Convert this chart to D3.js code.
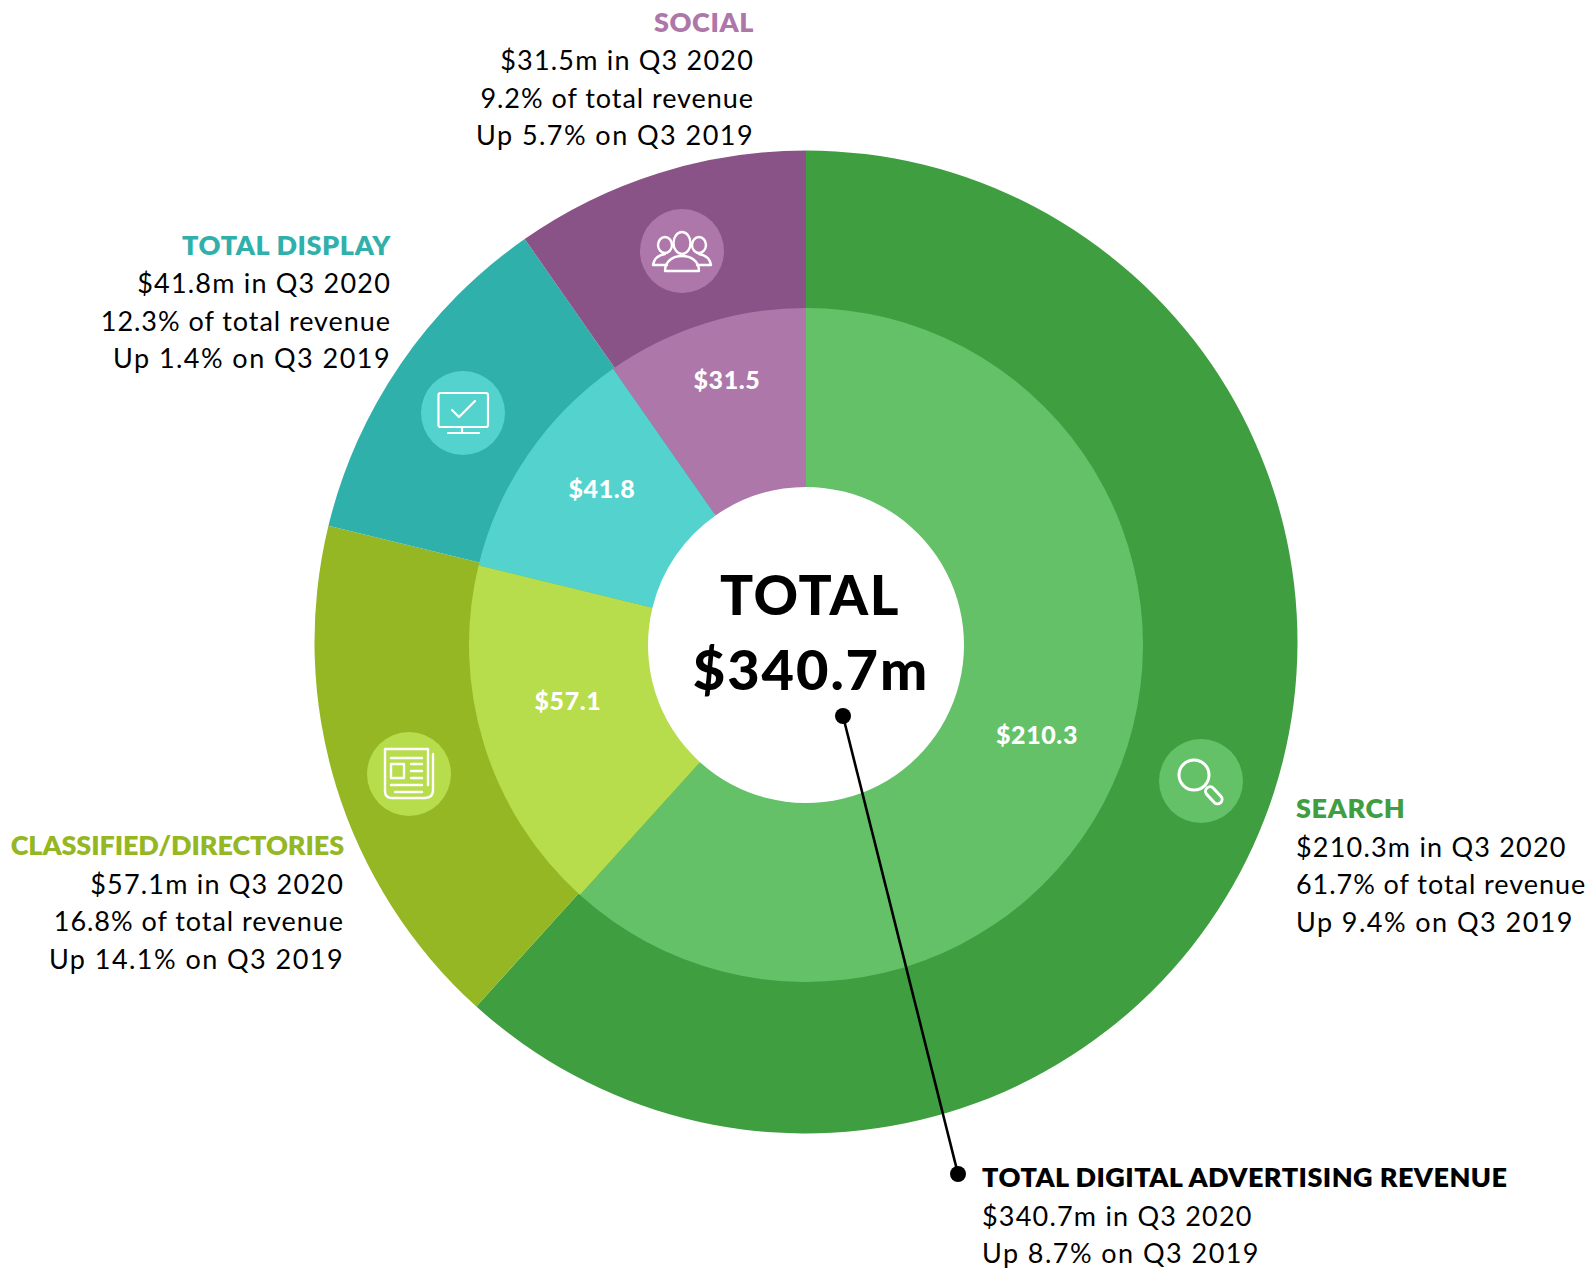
<!DOCTYPE html>
<html>
<head>
<meta charset="utf-8">
<script src="https://cdn.jsdelivr.net/npm/d3@7"></script>
<style>
html, body { margin: 0; padding: 0; background: #fff; }
svg { display: block; }
text { font-family: "Lato", sans-serif; }
</style>
</head>
<body>
<div id="chart"></div>
<script>
const categories = ["Search", "Classified/Directories", "Total Display", "Social"];
const revenue = [210.3, 57.1, 41.8, 31.5];
// wedge sizes, they are slightly off the printed shares
const wedgeShare = [61.7, 17.1, 11.5, 9.7];
const revenueShare = [61.7, 16.8, 12.3, 9.2];
const growth = [9.4, 14.1, 1.4, 5.7];
const outerColors = ["#3f9e40", "#95b723", "#2fb0ab", "#8a5388"];
const innerColors = ["#64c167", "#b7dc4c", "#54d3ce", "#ae77aa"];
const headingColors = ["#3f9e40", "#95b723", "#2fb0ab", "#ae77aa"];
const headings = ["SEARCH", "CLASSIFIED/DIRECTORIES", "TOTAL DISPLAY", "SOCIAL"];
const totalRevenue = 340.7;
const totalGrowth = 8.7;

var width = 1589, height = 1269;
var cx = 806, cy = 642;
// the inner ring sits a few pixels lower than the outer one
var innerCy = 645;
var rHole = 158, rMid = 337, rOuter = 491.5;

var svg = d3.select("#chart").append("svg")
    .attr("width", width)
    .attr("height", height);

var pieData = d3.pie().sort(null).value(d => d)(wedgeShare);
var outerArc = d3.arc().innerRadius(rHole).outerRadius(rOuter);
var innerArc = d3.arc().innerRadius(rHole).outerRadius(rMid);

svg.append("g").attr("transform", "translate(" + cx + "," + cy + ")")
    .selectAll(".outer").data(pieData).enter().append("path")
    .attr("class", "outer")
    .attr("d", outerArc)
    .attr("fill", (d, i) => outerColors[i]);

var innerRing = svg.append("g").attr("transform", "translate(" + cx + "," + innerCy + ")");

innerRing.append("circle").attr("r", rHole + 1).attr("fill", "#fff");

innerRing.selectAll(".inner").data(pieData).enter().append("path")
    .attr("class", "inner")
    .attr("d", innerArc)
    .attr("fill", (d, i) => innerColors[i]);

// value labels inside the inner ring
var valuePos = [[1037, 744], [568, 710], [602, 498], [727, 389]];
svg.selectAll(".value").data(revenue).enter().append("text")
    .attr("class", "value")
    .attr("x", (d, i) => valuePos[i][0])
    .attr("y", (d, i) => valuePos[i][1])
    .attr("text-anchor", "middle")
    .attr("fill", "#fff")
    .attr("font-weight", 900)
    .attr("font-size", 25)
    .attr("letter-spacing", 0.6)
    .text(d => "$" + d.toFixed(1));

// centre text
svg.append("text")
    .attr("x", 810).attr("y", 615)
    .attr("text-anchor", "middle")
    .attr("font-weight", 900)
    .attr("font-size", 55)
    .attr("letter-spacing", 1.6)
    .text("TOTAL");
svg.append("text")
    .attr("x", 811).attr("y", 690)
    .attr("text-anchor", "middle")
    .attr("font-weight", 900)
    .attr("font-size", 56)
    .attr("letter-spacing", 1.9)
    .text("$" + totalRevenue + "m");

// leader from the centre to the total block
svg.append("line")
    .attr("x1", 843).attr("y1", 716)
    .attr("x2", 958).attr("y2", 1174)
    .attr("stroke", "#000")
    .attr("stroke-width", 2.6);
svg.selectAll(".dot").data([[843, 716], [958, 1174]]).enter().append("circle")
    .attr("class", "dot")
    .attr("cx", d => d[0])
    .attr("cy", d => d[1])
    .attr("r", 8);

// text blocks next to the ring
var blocks = [
    {x: 1296, anchor: "start", y: [818, 857, 894, 932], spacing: 0.6},
    {x: 344, anchor: "end", y: [855, 894, 931, 969], spacing: -0.1},
    {x: 391, anchor: "end", y: [255, 293, 331, 368], spacing: 0.6},
    {x: 754, anchor: "end", y: [32, 70, 108, 145], spacing: 0.6}
];

function addLine(g, x, y, anchor, str, bold, color, spacing) {
    g.append("text")
        .attr("x", x).attr("y", y)
        .attr("text-anchor", anchor)
        .attr("font-size", 27)
        .attr("font-weight", bold ? 800 : 400)
        .attr("letter-spacing", spacing)
        .attr("fill", color)
        .text(str);
}

categories.forEach(function(name, i) {
    var b = blocks[i];
    var g = svg.append("g").attr("class", "block");
    addLine(g, b.x, b.y[0], b.anchor, headings[i], true, headingColors[i], b.spacing);
    addLine(g, b.x, b.y[1], b.anchor, "$" + revenue[i].toFixed(1) + "m in Q3 2020", false, "#000", 1.2);
    addLine(g, b.x, b.y[2], b.anchor, revenueShare[i].toFixed(1) + "% of total revenue", false, "#000", 0.95);
    addLine(g, b.x, b.y[3], b.anchor, "Up " + growth[i].toFixed(1) + "% on Q3 2019", false, "#000", 1.45);
});

var totalBlock = svg.append("g");
addLine(totalBlock, 982, 1187, "start", "TOTAL DIGITAL ADVERTISING REVENUE", true, "#000", 0.45);
addLine(totalBlock, 982, 1226, "start", "$" + totalRevenue + "m in Q3 2020", false, "#000", 1.2);
addLine(totalBlock, 982, 1263, "start", "Up " + totalGrowth + "% on Q3 2019", false, "#000", 1.45);

// icons, all drawn around their circle's centre
function iconBase(i, x, y) {
    var g = svg.append("g")
        .attr("transform", "translate(" + x + "," + y + ")")
        .attr("fill", "none")
        .attr("stroke", "#fff")
        .attr("stroke-width", 2.2)
        .attr("stroke-linecap", "round")
        .attr("stroke-linejoin", "round");
    g.append("circle")
        .attr("r", 42)
        .attr("fill", innerColors[i])
        .attr("stroke", "none");
    return g;
}

function searchIcon(g) {
    g.attr("stroke-width", 3);
    g.append("circle").attr("cx", -7).attr("cy", -6).attr("r", 15);
    g.append("rect")
        .attr("x", 0).attr("y", -4.5)
        .attr("width", 20).attr("height", 9).attr("rx", 4.5)
        .attr("transform", "translate(6,7) rotate(47)");
}

function newspaperIcon(g) {
    g.attr("stroke-width", 2.4);
    g.append("path").attr("d", "M19,-25H-24V17Q-24,24 -17,24H16Q24,24 24,16V-20M19,-25V11");
    g.append("rect").attr("x", -18).attr("y", -10).attr("width", 13).attr("height", 14);
    var rows = [[-18, 13, -16], [2, 13, -10], [2, 13, -3], [2, 13, 4], [-18, 13, 11], [-14, 13, 18]];
    g.selectAll(".row").data(rows).enter().append("line")
        .attr("class", "row")
        .attr("x1", d => d[0]).attr("x2", d => d[1])
        .attr("y1", d => d[2]).attr("y2", d => d[2]);
}

function monitorIcon(g) {
    g.append("rect").attr("x", -24.5).attr("y", -20).attr("width", 49.5).attr("height", 34).attr("rx", 2);
    g.append("path").attr("d", "M-1,14V20M-15,20H16");
    g.append("path").attr("d", "M-11,-3L-4,4L12,-12");
}

function peopleIcon(g) {
    g.attr("stroke-width", 2.4);
    g.append("ellipse").attr("cx", -17).attr("cy", -6).attr("rx", 7).attr("ry", 8);
    g.append("ellipse").attr("cx", 17).attr("cy", -6).attr("rx", 7).attr("ry", 8);
    g.append("path").attr("d", "M-15,14H-29C-28,7 -23,4 -17,3");
    g.append("path").attr("d", "M15,14H29C28,7 23,4 17,3");
    g.append("ellipse").attr("cx", 0).attr("cy", -8).attr("rx", 8.5).attr("ry", 11);
    g.append("path").attr("d", "M-17,20C-17,10 -9,5 0,5C9,5 17,10 17,20Z");
}

searchIcon(iconBase(0, 1201, 781));
newspaperIcon(iconBase(1, 409, 774));
monitorIcon(iconBase(2, 463, 413));
peopleIcon(iconBase(3, 682, 251));
</script>
</body>
</html>
